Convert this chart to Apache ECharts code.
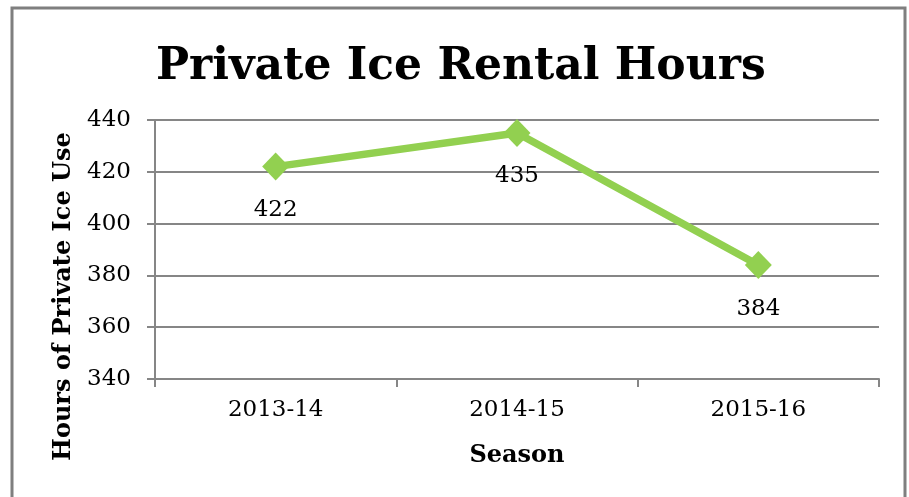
<!DOCTYPE html>
<html>
<head>
<meta charset="utf-8">
<script src="https://cdn.jsdelivr.net/npm/echarts@6/dist/echarts.min.js"></script>
<style>
  html, body { margin: 0; padding: 0; background: #fff; }
  #chart { width: 909px; height: 497px; }
</style>
</head>
<body>
<div id="chart"></div>
<script>
const seasons = ['2013-14', '2014-15', '2015-16'];
const hours = [422, 435, 384];

const serif = 'DejaVu Serif';
const gray = '#868686';

const chart = echarts.init(document.getElementById('chart'));
chart.setOption({
  animation: false,
  title: {
    text: 'Private Ice Rental Hours',
    left: 151,
    top: 37,
    textStyle: {
      fontFamily: serif,
      fontWeight: 'bold',
      fontSize: 44,
      lineHeight: 52,
      color: '#000',
    },
  },
  graphic: [
    {
      // outer frame of the chart
      type: 'rect',
      shape: { x: 12, y: 8, width: 893, height: 520 },
      style: { fill: 'none', stroke: '#7f7f7f', lineWidth: 3 },
      silent: true,
    },
  ],
  grid: { left: 155, top: 120, right: 30, bottom: 118 },
  xAxis: {
    type: 'category',
    data: seasons,
    name: 'Season',
    nameLocation: 'middle',
    nameGap: 65,
    nameTextStyle: { fontFamily: serif, fontWeight: 'bold', fontSize: 24, color: '#000' },
    axisLine: { lineStyle: { color: gray, width: 2 } },
    axisTick: { show: true, length: 8, lineStyle: { color: gray, width: 2 } },
    axisLabel: { fontFamily: serif, fontSize: 23, color: '#000', margin: 20 },
  },
  yAxis: {
    type: 'value',
    min: 340,
    max: 440,
    interval: 20,
    name: 'Hours of Private Ice Use',
    nameLocation: 'middle',
    nameGap: 78,
    nameTextStyle: {
      fontFamily: serif,
      fontWeight: 'bold',
      fontSize: 24,
      color: '#000',
      padding: [0, 94, 0, 0],
    },
    axisLine: { show: true, lineStyle: { color: gray, width: 2 } },
    axisTick: { show: true, length: 8, lineStyle: { color: gray, width: 2 } },
    axisLabel: { fontFamily: serif, fontSize: 23, color: '#000', margin: 24 },
    splitLine: { lineStyle: { color: gray, width: 2 } },
  },
  series: [
    {
      type: 'line',
      data: hours,
      symbol: 'diamond',
      symbolSize: [27, 28],
      itemStyle: { color: '#92D050' },
      lineStyle: { color: '#92D050', width: 7.5 },
      label: {
        show: true,
        position: 'bottom',
        distance: 18,
        fontFamily: serif,
        fontSize: 23,
        color: '#000',
      },
    },
  ],
});
</script>
</body>
</html>
